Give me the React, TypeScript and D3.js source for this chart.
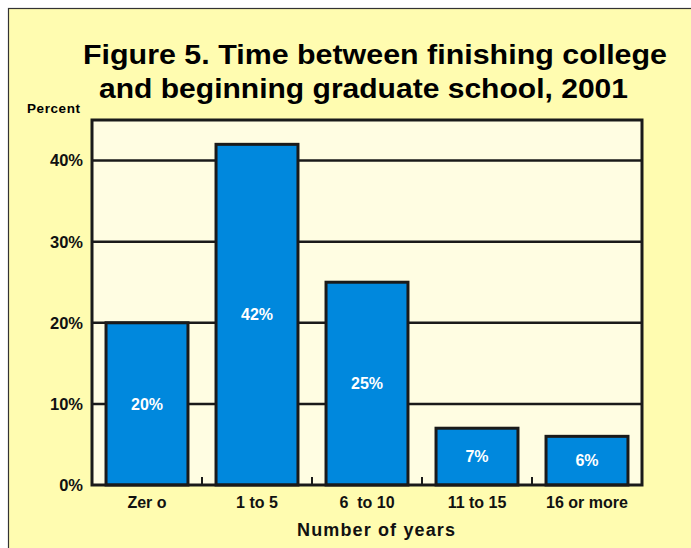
import React from 'react'
import * as d3 from 'd3'

const categories = ['Zer o', '1 to 5', '6  to 10', '11 to 15', '16 or more']
const values = [20, 42, 25, 7, 6]
const yTicks = [0, 10, 20, 30, 40]

const App = () => {
  const width = 691
  const height = 548
  const left = 92
  const right = 642
  const top = 120
  const bottom = 485

  const x = d3.scaleBand<string>()
    .domain(categories)
    .range([left, right])
    .paddingInner(0.255)
    .paddingOuter(0.1275)

  const y = d3.scaleLinear()
    .domain([0, 45])
    .range([bottom, top])

  const step = x.step()
  const font = 'Arial, "Liberation Sans", Helvetica, sans-serif'

  return (
    <svg
      width={width}
      height={height}
      style={{ position: 'absolute', left: 0, top: 0, display: 'block' }}
      fontFamily={font}
    >
      <rect x={0} y={0} width={width} height={height} fill="#ffffff" />
      <rect x={8.5} y={8.5} width={width + 20} height={height + 20} fill="#fffcb0" stroke="#333" strokeWidth={1.2} />

      {/* title */}
      <text x={83} y={64} fontSize={28.5} fontWeight="bold" fill="#000" textLength={584} lengthAdjust="spacingAndGlyphs">
        Figure 5.  Time between finishing college
      </text>
      <text x={99} y={98} fontSize={28.5} fontWeight="bold" fill="#000" textLength={529} lengthAdjust="spacingAndGlyphs">
        and beginning graduate school, 2001
      </text>

      <text x={27} y={112.5} fontSize={13.5} fontWeight="bold" fill="#000" textLength={53} lengthAdjust="spacing">
        Percent
      </text>

      {/* plot area */}
      <rect x={left} y={top} width={right - left} height={bottom - top} fill="#fffde2" />

      {yTicks.filter(t => t > 0).map(t => (
        <line key={t} x1={left} x2={right} y1={y(t)} y2={y(t)} stroke="#1a1a1a" strokeWidth={2.5} />
      ))}

      {yTicks.map(t => (
        <text key={t} x={83} y={y(t)} dy="0.36em" textAnchor="end" fontSize={16.5} fontWeight="bold" fill="#111">
          {t}%
        </text>
      ))}

      {categories.map((c, i) => (
        <g key={c}>
          <rect
            x={x(c)}
            y={y(values[i])}
            width={x.bandwidth()}
            height={bottom - y(values[i])}
            fill="#0088dd"
            stroke="#1a1a1a"
            strokeWidth={3}
          />
          <text
            x={(x(c) ?? 0) + x.bandwidth() / 2}
            y={(y(values[i]) + bottom) / 2}
            dy="0.36em"
            textAnchor="middle"
            fontSize={16}
            fontWeight="bold"
            fill="#ffffff"
          >
            {values[i]}%
          </text>
          <text
            x={(x(c) ?? 0) + x.bandwidth() / 2}
            y={508}
            textAnchor="middle"
            fontSize={16}
            fontWeight="bold"
            fill="#111"
            style={{ whiteSpace: 'pre' }}
          >
            {c}
          </text>
        </g>
      ))}

      {categories.slice(1).map((c, i) => (
        <line
          key={c}
          x1={left + step * (i + 1)}
          x2={left + step * (i + 1)}
          y1={bottom}
          y2={bottom - 8}
          stroke="#1a1a1a"
          strokeWidth={2}
        />
      ))}

      <rect x={left} y={top} width={right - left} height={bottom - top} fill="none" stroke="#1a1a1a" strokeWidth={3} />

      <text x={297} y={536} fontSize={18} fontWeight="bold" fill="#111" textLength={158} lengthAdjust="spacing">
        Number of years
      </text>
    </svg>
  )
}

export default App
